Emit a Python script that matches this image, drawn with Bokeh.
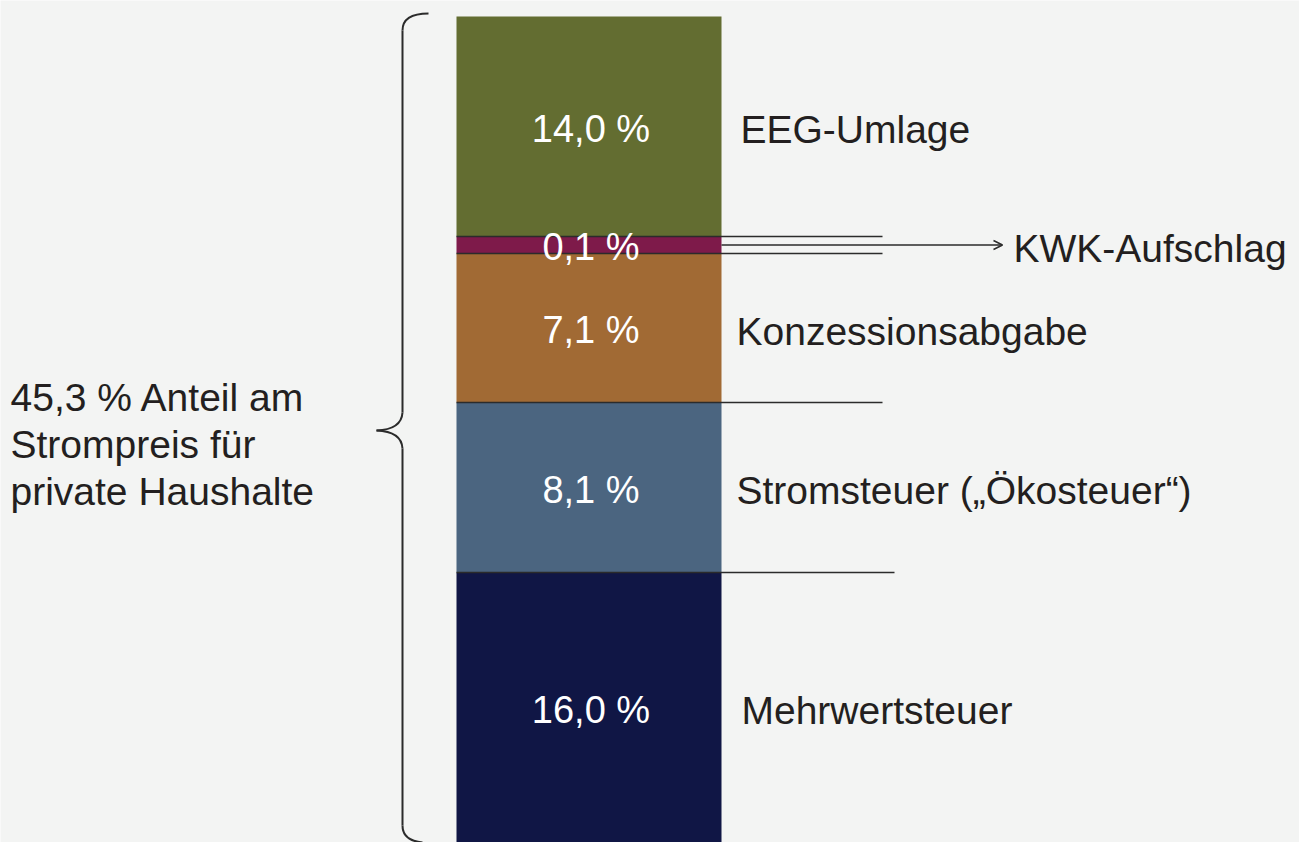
import numpy as np
from bokeh.plotting import figure
from bokeh.models import Range1d, ColumnDataSource, Arrow, OpenHead
from bokeh.core.properties import value
from bokeh.embed import file_html
from bokeh.resources import INLINE

# ---- data (top to bottom of the bar) ----
categories = ["EEG-Umlage", "KWK-Aufschlag", "Konzessionsabgabe",
              "Stromsteuer („Ökosteuer“)", "Mehrwertsteuer"]
shares = [14.0, 0.1, 7.1, 8.1, 16.0]
share_labels = ["14,0 %", "0,1 %", "7,1 %", "8,1 %", "16,0 %"]
# drawn segment heights (the infographic is not drawn to scale)
segment_heights = [220, 17, 149, 170, 270]
colors = ["#636d31", "#7e1a4a", "#a16a34", "#4b6580", "#101645"]
total_label = ["45,3 % Anteil am", "Strompreis für", "private Haushalte"]

BG = "#f3f4f3"
TXT = "#231f20"
LINE = "#2b2b2b"
FONT = value("Liberation Sans")

W, H = 1299, 842
p = figure(width=W, height=H, output_backend="svg", toolbar_location=None,
           x_range=Range1d(0, W), y_range=Range1d(0, H),
           min_border=0, background_fill_color=BG, border_fill_color=BG)
p.axis.visible = False
p.grid.visible = False
p.outline_line_color = None

# stack from the bottom
h_rev = segment_heights[::-1]
bottoms_rev = np.concatenate([[0], np.cumsum(h_rev)[:-1]])
tops_rev = bottoms_rev + np.array(h_rev)
bottoms = bottoms_rev[::-1]
tops = tops_rev[::-1]
mids = (bottoms + tops) / 2

bar_l, bar_r = 456, 721
bar_c = (bar_l + bar_r) / 2
src = ColumnDataSource(dict(x=[bar_c] * 5, bottom=bottoms, top=tops, color=colors,
                            lab=share_labels, mid=mids, name=categories))
p.vbar(x="x", width=bar_r - bar_l, bottom="bottom", top="top", color="color",
       line_color=None, source=src)

# boundary lines (bottom of EEG, KWK, Konzession, Stromsteuer)
b_y = [bottoms[0], bottoms[1], bottoms[2], bottoms[3]]
b_x1 = [882, 882, 882, 894]
p.segment(x0=[bar_l] * 4, y0=b_y, x1=b_x1, y1=b_y, line_color=LINE, line_width=1.5)

# arrow to KWK label
p.add_layout(Arrow(end=OpenHead(size=9, line_width=1.5, line_color=LINE),
                   x_start=bar_r, y_start=mids[1], x_end=1002, y_end=mids[1],
                   line_color=LINE, line_width=1.5))

# value labels
p.text(x=[bar_c + 2] * 5, y=mids - 2, text=share_labels, text_color="white",
       text_font=FONT, text_font_size="38px", text_align="center",
       text_baseline="middle")

# category labels
name_x = [740, 1013, 736, 736, 741]
p.text(x=name_x, y=mids - 3, text=categories, text_color=TXT, text_font=FONT,
       text_font_size="39px", text_align="left", text_baseline="middle")

# left text
p.text(x=[10] * 3, y=[H - 397, H - 444, H - 491], text=total_label,
       text_color=TXT, text_font=FONT, text_font_size="39px",
       text_align="left", text_baseline="middle")

# curly brace
bx = 402
top_y = H - 13
tip_y = H - 430
bot_y = 0
p.segment(x0=[bx, bx], y0=[top_y - 17, tip_y - 18], x1=[bx, bx], y1=[tip_y + 18, bot_y + 17],
          line_color=LINE, line_width=2)
p.quadratic(x0=[bx, bx, 376, bx], y0=[top_y - 17, tip_y + 18, tip_y, bot_y + 17],
            cx=[bx, bx - 1, bx - 1, bx], cy=[top_y, tip_y + 1, tip_y - 1, bot_y + 2],
            x1=[428, 376, bx, 422], y1=[top_y, tip_y, tip_y - 18, bot_y],
            line_color=LINE, line_width=2)

html = file_html(p, INLINE)
html = html.replace("<body>", f'<body style="background:{BG};">', 1)
open("out.html", "w").write(html)
